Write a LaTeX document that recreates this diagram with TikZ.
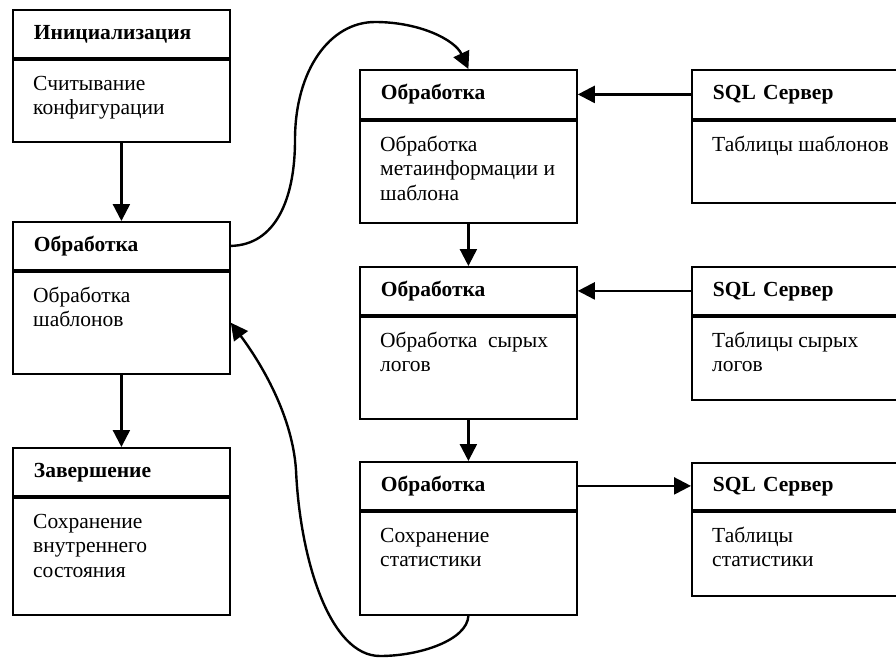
\documentclass[tikz,border=0pt]{standalone}
\usepackage{fontspec}
\setmainfont{Liberation Serif}
\usetikzlibrary{arrows.meta}
\tikzset{
  boxpart/.style={draw, line width=1.8pt, rectangle, minimum width=217pt, inner sep=0pt, anchor=north west},
  headbox/.style={boxpart, font=\fontsize{21.5}{24.5}\selectfont\bfseries, text width=175pt, inner xsep=21pt, text height=15pt, text depth=4pt, align=left},
  bodytext/.style={font=\fontsize{21.5}{24.5}\selectfont, align=left, inner sep=0pt, anchor=north west},
  arr/.style={line width=2.4pt, -{Triangle[length=17pt,width=17pt]}}
}
\newcommand{\fstrut}{\rule{0pt}{16pt}}
\begin{document}
\begin{tikzpicture}[x=1pt,y=-1pt]
\useasboundingbox (0,0) rectangle (896,659);
\fill[white] (0,0) rectangle (896,659);
\clip (0,0) rectangle (896,659);

% left column
\node[headbox, minimum height=48pt] (h1) at (12,9) {Инициализация};
\node[boxpart, minimum height=82pt] (b1) at (h1.south west) {};
\node[bodytext] (t1) at ([shift={(21,15)}]b1.north west) {\fstrut Считывание\\конфигурации};

\node[headbox, minimum height=48pt] (h2) at (12,221) {Обработка};
\node[boxpart, minimum height=102pt] (b2) at (h2.south west) {};
\node[bodytext] (t2) at ([shift={(21,15)}]b2.north west) {\fstrut Обработка\\шаблонов};

\node[headbox, minimum height=48pt] (h3) at (12,447) {Завершение};
\node[boxpart, minimum height=117pt] (b3) at (h3.south west) {};
\node[bodytext] (t3) at ([shift={(21,15)}]b3.north west) {\fstrut Сохранение\\внутреннего\\состояния};

% middle column
\node[headbox, minimum height=49pt] (hm1) at (359,69) {Обработка};
\node[boxpart, minimum height=102pt] (bm1) at (hm1.south west) {};
\node[bodytext] (tm1) at ([shift={(21,15)}]bm1.north west) {\fstrut Обработка\\метаинформации и\\шаблона};

\node[headbox, minimum height=48pt] (hm2) at (359,266) {Обработка};
\node[boxpart, minimum height=102pt] (bm2) at (hm2.south west) {};
\node[bodytext] (tm2) at ([shift={(21,15)}]bm2.north west) {\fstrut Обработка\ \ сырых\\логов};

\node[headbox, minimum height=48pt] (hm3) at (359,461) {Обработка};
\node[boxpart, minimum height=103pt] (bm3) at (hm3.south west) {};
\node[bodytext] (tm3) at ([shift={(21,15)}]bm3.north west) {\fstrut Сохранение\\статистики};

% right column
\node[headbox, minimum height=49pt] (hr1) at (691,69) {SQL Сервер};
\node[boxpart, minimum height=82pt] (br1) at (hr1.south west) {};
\node[bodytext] (tr1) at ([shift={(21,15)}]br1.north west) {\fstrut Таблицы шаблонов};

\node[headbox, minimum height=48pt] (hr2) at (691,266) {SQL Сервер};
\node[boxpart, minimum height=83pt] (br2) at (hr2.south west) {};
\node[bodytext] (tr2) at ([shift={(21,15)}]br2.north west) {\fstrut Таблицы сырых\\логов};

\node[headbox, minimum height=47pt] (hr3) at (691,462) {SQL Сервер};
\node[boxpart, minimum height=84pt] (br3) at (hr3.south west) {};
\node[bodytext] (tr3) at ([shift={(21,15)}]br3.north west) {\fstrut Таблицы\\статистики};

% straight connectors
\draw[arr] (b1.south) -- (h2.north);
\draw[arr] (b2.south) -- (h3.north);
\draw[arr] (bm1.south) -- (hm2.north);
\draw[arr] (bm2.south) -- (hm3.north);
\draw[arr] (hr1.west) -- (hr1.west -| hm1.east);
\draw[arr] (hr2.west) -- (hr2.west -| hm2.east);
\draw[arr] (hm3.east) -- (hm3.east -| hr3.west);

% curved connectors
\coordinate (c1) at (295,140);
\coordinate (c2) at (375,22);
\draw[arr] (h2.east) .. controls (275,245) and (295,200) .. (c1)
  .. controls (295,70) and (330,22) .. (c2)
  .. controls (420,22) and (455,40) .. (hm1.north);

\coordinate (d1) at (380,656);
\coordinate (d2) at (296,470);
\draw[arr] (bm3.south) .. controls (467.5,640) and (420,656) .. (d1)
  .. controls (330,656) and (300,560) .. (d2)
  .. controls (292,410) and (255,355) .. (b2.east);
\end{tikzpicture}
\end{document}
